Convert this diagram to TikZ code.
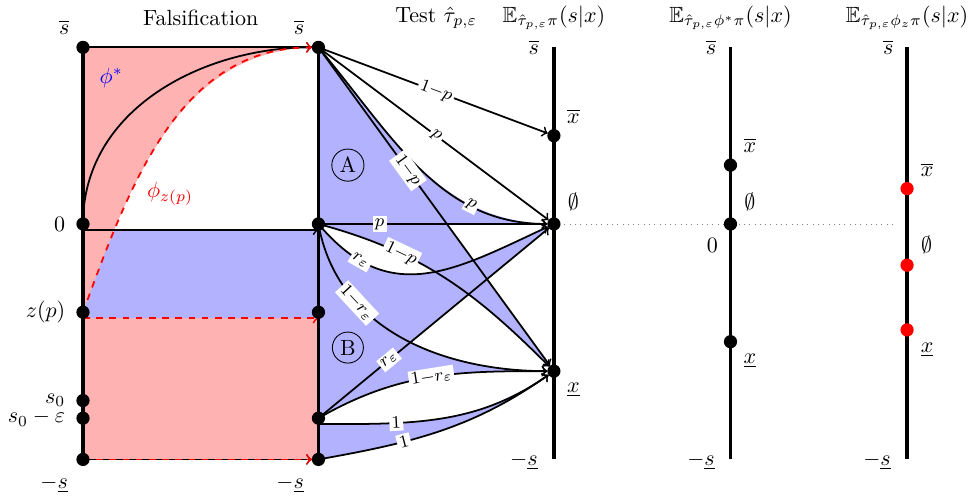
\documentclass[tikz,border=0pt]{standalone}
\usepackage{amsmath,amssymb}
\begin{document}
\begin{tikzpicture}[scale=0.94,
    arr/.style={->,thick,shorten >=3pt},
    elab/.style={sloped,fill=white,inner sep=1pt,font=\footnotesize},
    axisline/.style={ultra thick},
    falsarr/.style={->,red,dashed,thick}]
  \useasboundingbox (-1.41,-4.64) rectangle (15.12,3.805);
  % points on the falsification axes
  \coordinate (Ltop) at (0,3);
  \coordinate (Lzero) at (0,0);
  \coordinate (Lzrow) at (0,-0.1);
  \coordinate (Lz) at (0,-1.5);
  \coordinate (Lzdash) at (0,-1.6);
  \coordinate (Ls) at (0,-3);
  \coordinate (Leps) at (0,-3.3);
  \coordinate (Lbot) at (0,-4);
  \coordinate (Mtop) at (4,3);
  \coordinate (Mzero) at (4,0);
  \coordinate (Mzrow) at (4,-0.1);
  \coordinate (Mz) at (4,-1.5);
  \coordinate (Mzdash) at (4,-1.6);
  \coordinate (Meps) at (4,-3.3);
  \coordinate (Mepsb) at (4,-3.4);
  \coordinate (Mbot) at (4,-4);
  % points on the posterior axes
  \coordinate (tXu) at (8,1.5);
  \coordinate (tE) at (8,0);
  \coordinate (tXl) at (8,-2.5);
  \coordinate (aXu) at (11,1);
  \coordinate (aE) at (11,0);
  \coordinate (aXl) at (11,-2);
  \coordinate (bXu) at (14,0.6);
  \coordinate (bE) at (14,-0.7);
  \coordinate (bXl) at (14,-1.8);

  % falsification regions
  \fill[red!30] (Lbot) rectangle (Mtop);
  \begin{scope}
    \clip (0,-0.1) rectangle (4,3.1);
    \fill[white] (Lz) to[out=70,in=180] (Mtop) -- (Mzdash) -- (Lzdash) -- cycle;
  \end{scope}
  \begin{scope}
    \clip (0,-1.6) rectangle (4,-0.1);
    \fill[blue!30] (Lz) to[out=70,in=180] (Mtop) -- (Mzdash) -- (Lzdash) -- cycle;
  \end{scope}

  % test regions
  \fill[blue!30] (Mtop) -- (Mzero) -- (tE) to[out=180,in=-50] (Mtop) -- cycle;
  \fill[blue!30] (Mtop) -- (tXl) to[out=135,in=-15] (Mzero) -- cycle;
  \fill[blue!30] (Mzero) -- (Meps) -- (tE) to[out=205,in=-50,looseness=1.2] (Mzero) -- cycle;
  \fill[blue!30] (Mzero) to[out=-80,in=180] (tXl) to[out=180,in=30] (Meps) -- cycle;
  \fill[blue!30] (Mepsb) to[out=0,in=215] (tXl) to[out=215,in=10] (Mbot) -- cycle;

  \draw[gray,dotted] (tE) -- (13.8,0);

  % falsification maps
  \draw[thick] (Ltop) -- (Mtop);
  \draw[arr] (Lzero) to[out=90,in=180] (Mtop);
  \draw[falsarr,shorten >=3pt] (Lz) to[out=70,in=180] (Mtop);
  \draw[->,thick] (Lzrow) -- (Mzrow);
  \draw[falsarr] (Lzdash) -- (Mzdash);
  \draw[arr] (Lbot) -- (Mbot);
  \draw[falsarr,shorten >=3pt] (Lbot) -- (Mbot);

  % test
  \draw[arr] (Mtop) -- node[elab,pos=.5] (e1) {$1{-}p$} (tXu);
  \draw[arr] (Mtop) -- node[elab,pos=.5] (e2) {$p$} (tE);
  \draw[arr] (Mtop) to[out=-50,in=180] node[elab,pos=.72] (e3) {$p$} (tE);
  \draw[arr] (Mtop) -- node[elab,pos=.38] (e4) {$1{-}p$} (tXl);
  \draw[arr] (Mzero) -- node[elab,pos=.26] (e5) {$p$} (tE);
  \draw[arr] (Mzero) to[out=-15,in=135] node[elab,pos=.3] (e6) {$1{-}p$} (tXl);
  \draw[arr] (Mzero) to[out=-50,in=205,looseness=1.2] node[elab,pos=.2] (e7) {$r_\varepsilon$} (tE);
  \draw[arr] (Mzero) to[out=-80,in=180] node[elab,pos=.3] (e8) {$1{-}r_\varepsilon$} (tXl);
  \draw[arr] (Meps) -- node[elab,pos=.3] (e9) {$r_\varepsilon$} (tE);
  \draw[arr] (Meps) to[out=30,in=180] node[elab,pos=.5] (e10) {$1{-}r_\varepsilon$} (tXl);
  \draw[arr] (Mepsb) to[out=0,in=215] node[elab,pos=.3] (e11) {$1$} (tXl);
  \draw[arr] (Mbot) to[out=10,in=215] node[elab,pos=.33] (e12) {$1$} (tXl);

  % axes
  \draw[axisline] (Ltop) -- (Lbot);
  \draw[axisline] (Mtop) -- (Mbot);
  \draw[axisline] (8,3) -- (8,-4);
  \draw[axisline] (11,3) -- (11,-4);
  \draw[axisline] (14,3) -- (14,-4);

  % dots
  \fill (Ltop) circle (3.2pt);
  \fill (Lzero) circle (3.2pt);
  \fill (Lz) circle (3.2pt);
  \fill (Ls) circle (3.2pt);
  \fill (Leps) circle (3.2pt);
  \fill (Lbot) circle (3.2pt);
  \fill (Mtop) circle (3.2pt);
  \fill (Mzero) circle (3.2pt);
  \fill (Mz) circle (3.2pt);
  \fill (Meps) circle (3.2pt);
  \fill (Mbot) circle (3.2pt);
  \fill (tXu) circle (3.2pt);
  \fill (tE) circle (3.2pt);
  \fill (tXl) circle (3.2pt);
  \fill (aXu) circle (3.2pt);
  \fill (aE) circle (3.2pt);
  \fill (aXl) circle (3.2pt);
  \fill[red] (bXu) circle (3.2pt);
  \fill[red] (bE) circle (3.2pt);
  \fill[red] (bXl) circle (3.2pt);

  % titles
  \node (tfals) at (2,3.5) {Falsification};
  \node (ttest) at (6,3.5) {Test $\hat{\tau}_{p,\varepsilon}$};
  \node (tpost) at (8,3.5) {$\mathbb{E}_{\hat{\tau}_{p,\varepsilon}\pi}(s|x)$};
  \node (tstar) at (11,3.5) {$\mathbb{E}_{\hat{\tau}_{p,\varepsilon}\phi^*\pi}(s|x)$};
  \node (tzed) at (14,3.5) {$\mathbb{E}_{\hat{\tau}_{p,\varepsilon}\phi_z\pi}(s|x)$};

  % falsification labels
  \node (lLtop) at (-0.32,3.34) {$\overline{s}$};
  \node (lMtop) at (3.67,3.34) {$\overline{s}$};
  \node[left] (lLzero) at (-0.17,0) {$0$};
  \node[left] (lLz) at (-0.17,-1.5) {$z(p)$};
  \node[left] (lLs) at (-0.17,-3) {$s_0$};
  \node[left] (lLeps) at (-0.17,-3.3) {$s_0-\varepsilon$};
  \node (lLbot) at (-0.49,-4.42) {$-\underline{s}$};
  \node (lMbot) at (3.52,-4.42) {$-\underline{s}$};
  \node[blue] (lstar) at (0.48,2.48) {$\phi^*$};
  \node[red] (lzed) at (1.48,0.51) {$\phi_{z(p)}$};
  \node[circle,draw,inner sep=1.5pt] (regA) at (4.5,1) {A};
  \node[circle,draw,inner sep=1.5pt] (regB) at (4.5,-2.1) {B};

  % posterior labels
  \node (ltop) at (7.66,3) {$\overline{s}$};
  \node (ltXu) at (8.33,1.83) {$\overline{x}$};
  \node (ltE) at (8.33,0.37) {$\emptyset$};
  \node (ltXl) at (8.33,-2.82) {$\underline{x}$};
  \node (ltbot) at (7.49,-4.03) {$-\underline{s}$};
  \node (latop) at (10.67,3) {$\overline{s}$};
  \node (laXu) at (11.33,1.34) {$\overline{x}$};
  \node (laE) at (11.33,0.37) {$\emptyset$};
  \node (lazero) at (10.69,-0.36) {$0$};
  \node (laXl) at (11.33,-2.33) {$\underline{x}$};
  \node (labot) at (10.5,-4.03) {$-\underline{s}$};
  \node (lbtop) at (13.68,3) {$\overline{s}$};
  \node (lbXu) at (14.34,0.92) {$\overline{x}$};
  \node (lbE) at (14.33,-0.36) {$\emptyset$};
  \node (lbXl) at (14.34,-2.14) {$\underline{x}$};
  \node (lbbot) at (13.49,-4.03) {$-\underline{s}$};
\end{tikzpicture}
\end{document}
